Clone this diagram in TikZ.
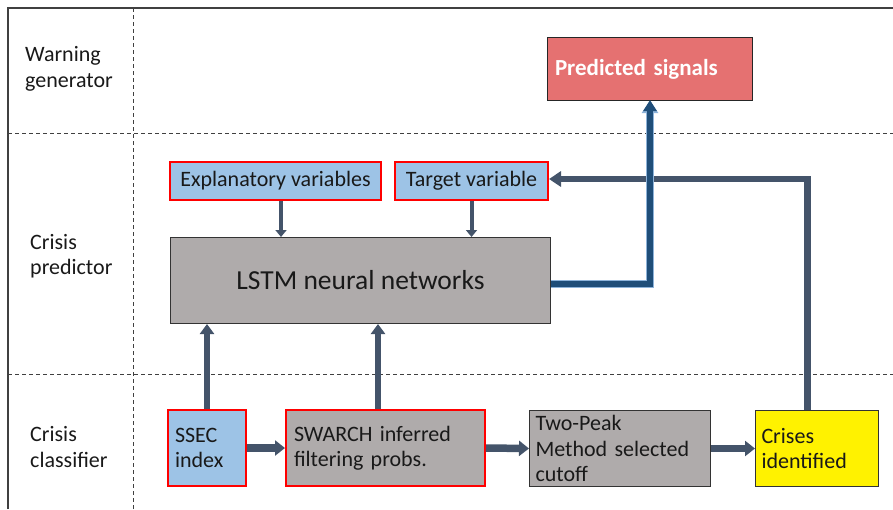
\documentclass[tikz,border=0pt]{standalone}
\usepackage{fontspec}
\setmainfont{Carlito}
\usetikzlibrary{arrows.meta,calc}
\definecolor{lblue}{HTML}{9DC3E6}
\definecolor{boxgray}{HTML}{AFABAB}
\definecolor{predred}{HTML}{E57171}
\definecolor{slate}{HTML}{44546A}
\definecolor{dblue}{HTML}{1F4E79}
\definecolor{edgeblue}{HTML}{8DB3DA}
\begin{document}
\begin{tikzpicture}[x=1pt,y=-1pt,
  txt/.style={font=\fontsize{22}{25.5}\selectfont,text=black!90},
  redbox/.style={draw=red,line width=2pt,fill=lblue,txt,inner sep=0pt},
  darkbox/.style={draw=black!80,line width=1pt,txt,inner sep=0pt},
  lbl/.style={txt,align=left,anchor=west,inner sep=0pt},
  sep/.style={dashed,dash pattern=on 4pt off 3pt,line width=0.9pt,black!75},
  thinarr/.style={slate,line width=4pt,-{Triangle[width=11pt,length=7pt]}},
  medarr/.style={slate,line width=6pt,-{Triangle[width=14pt,length=10pt]}},
  horarr/.style={slate,line width=7.5pt,-{Triangle[width=15pt,length=10pt]}},
]
\useasboundingbox (0,0) rectangle (893,509);
% frame
\draw[black!75,line width=1.5pt] (8,509) -- (8,8) -- (893,8);
\draw[sep] (8,133) -- (893,133);
\draw[sep] (8,374) -- (893,374);
\draw[sep] (133,8) -- (133,509);
% row labels
\node[lbl] (lw) at (25,69) {Warning\\generator};
\node[lbl] (lp) at (30,256) {Crisis\\predictor};
\node[lbl] (lc) at (30,447) {Crisis\\classifier};
% boxes
\node[draw=black!85,line width=1pt,fill=predred,anchor=north west,minimum width=205pt,minimum height=63pt,
  text width=190pt,align=left,inner sep=0pt,text=white,font=\fontsize{23}{25}\selectfont\bfseries] (pred) at (547,37) {Predicted signals};
\node[redbox,anchor=north west,minimum width=211pt,minimum height=38pt] (expl) at (169,161) {Explanatory variables};
\node[redbox,anchor=north west,minimum width=153pt,minimum height=38pt] (target) at (394,161) {Target variable};
\node[darkbox,fill=boxgray,anchor=north west,minimum width=380pt,minimum height=86pt,font=\fontsize{27.5}{30}\selectfont] (lstm) at (170,237) {LSTM neural networks};
\node[redbox,anchor=north west,minimum width=78pt,minimum height=76pt,text width=64pt,align=left] (ssec) at (167,409) {SSEC\\index};
\node[redbox,fill=boxgray,anchor=north west,minimum width=199pt,minimum height=76pt,text width=183pt,align=left] (swarch) at (285,409) {SWARCH inferred\\filtering probs.};
\node[darkbox,fill=boxgray,anchor=north west,minimum width=181pt,minimum height=76pt,text width=169pt,align=left] (twopeak) at (529,410) {Two-Peak\\Method selected\\cutoff};
\node[darkbox,fill=yellow,anchor=north west,minimum width=123pt,minimum height=76pt,text width=111pt,align=left] (crises) at (755,410) {Crises\\identified};
% connectors
\draw[thinarr] ([xshift=5.5pt]expl.south) -- ([xshift=5.5pt]expl.south |- lstm.north);
\draw[thinarr] (target.south) -- (target.south |- lstm.north);
\draw[medarr] (ssec.north) -- (ssec.north |- lstm.south);
\draw[medarr] ([xshift=-7.5pt]swarch.north) -- ([xshift=-7.5pt]swarch.north |- lstm.south);
\draw[horarr] (ssec.east) -- (swarch.west);
\draw[horarr] (swarch.east) -- (twopeak.west);
\draw[horarr] (twopeak.east) -- (crises.west);
\draw[slate,line width=6.5pt,-{Triangle[width=15pt,length=12pt]}] ([xshift=-9.5pt]crises.north) |- ([yshift=2pt]target.east);
\draw[edgeblue,line width=8.5pt,-{Triangle[width=16pt,length=12pt]}] ([yshift=-3.5pt]lstm.east) -| (pred.south);
\draw[dblue,line width=6pt,-{Triangle[width=13pt,length=11pt]}] ([yshift=-3.5pt]lstm.east) -| ([yshift=1pt]pred.south);
\end{tikzpicture}
\end{document}
